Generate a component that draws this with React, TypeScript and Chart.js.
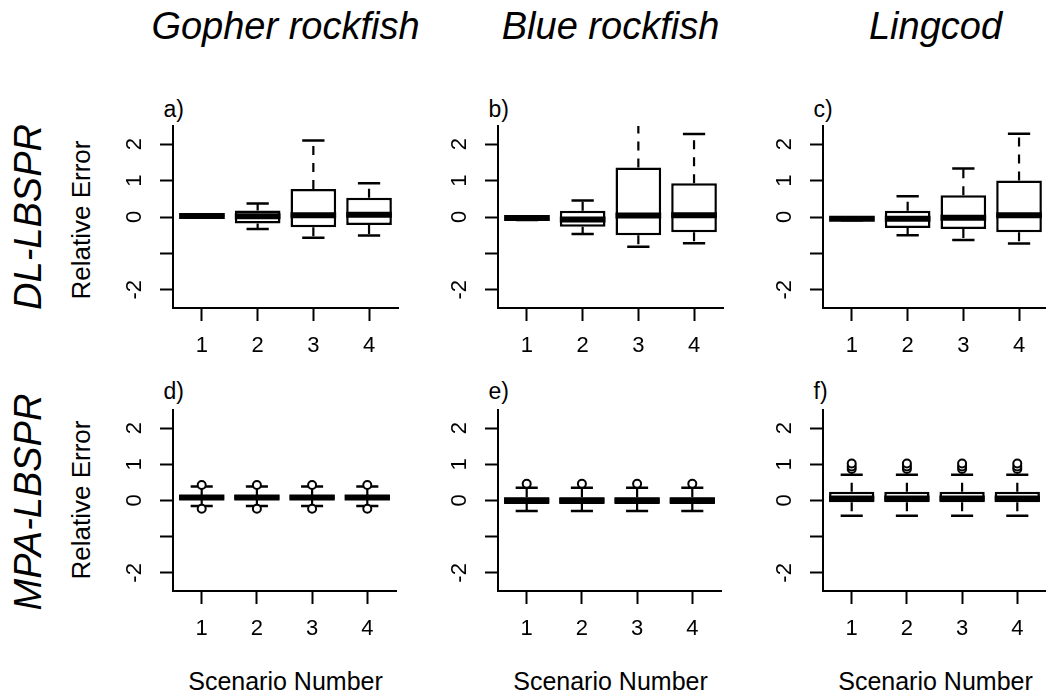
import React, { useEffect, useRef } from 'react';
import { Chart, registerables } from 'chart.js';

Chart.register(...registerables);

// ---------- data ----------
const SPECIES = ['Gopher rockfish', 'Blue rockfish', 'Lingcod'];
const METHODS = ['DL-LBSPR', 'MPA-LBSPR'];
const PANEL_LETTERS = ['a)', 'b)', 'c)', 'd)', 'e)', 'f)'];
const SCENARIOS = [1, 2, 3, 4];
const X_TICK_LABELS = ['1', '2', '3', '4'];
const Y_TICKS = [-2, -1, 0, 1, 2];
const Y_TICK_LABELS = ['-2', '', '0', '1', '2'];
const Y_LABEL = 'Relative Error';
const X_LABEL = 'Scenario Number';

// a) DL-LBSPR, Gopher rockfish
const A_LOWER = [0.02, -0.33, -0.57, -0.51];
const A_Q1 = [0.02, -0.18, -0.28, -0.22];
const A_MEDIAN = [0.03, 0.02, 0.05, 0.06];
const A_Q3 = [0.04, 0.18, 0.77, 0.53];
const A_UPPER = [0.04, 0.37, 2.1, 0.93];
const A_OUTLIERS: number[][] = [[], [], [], []];

// b) DL-LBSPR, Blue rockfish
const B_LOWER = [-0.08, -0.47, -0.82, -0.72];
const B_Q1 = [-0.05, -0.27, -0.5, -0.42];
const B_MEDIAN = [-0.03, -0.07, 0.04, 0.05];
const B_Q3 = [-0.02, 0.17, 1.36, 0.93];
const B_UPPER = [-0.01, 0.45, 2.65, 2.28];
const B_OUTLIERS: number[][] = [[], [], [], []];

// c) DL-LBSPR, Lingcod
const C_LOWER = [-0.09, -0.5, -0.63, -0.73];
const C_Q1 = [-0.06, -0.3, -0.33, -0.42];
const C_MEDIAN = [-0.05, -0.05, -0.02, 0.05];
const C_Q3 = [-0.04, 0.17, 0.6, 1.0];
const C_UPPER = [-0.03, 0.57, 1.33, 2.29];
const C_OUTLIERS: number[][] = [[], [], [], []];

// d) MPA-LBSPR, Gopher rockfish
const D_LOWER = [-0.15, -0.15, -0.15, -0.15];
const D_Q1 = [0.02, 0.02, 0.02, 0.02];
const D_MEDIAN = [0.08, 0.08, 0.08, 0.08];
const D_Q3 = [0.15, 0.15, 0.15, 0.15];
const D_UPPER = [0.39, 0.39, 0.39, 0.39];
const D_OUTLIERS = [[0.43, -0.23], [0.43, -0.23], [0.43, -0.23], [0.43, -0.23]];

// e) MPA-LBSPR, Blue rockfish
const E_LOWER = [-0.29, -0.29, -0.29, -0.29];
const E_Q1 = [-0.1, -0.1, -0.1, -0.1];
const E_MEDIAN = [0.0, 0.0, 0.0, 0.0];
const E_Q3 = [0.09, 0.09, 0.09, 0.09];
const E_UPPER = [0.35, 0.35, 0.35, 0.35];
const E_OUTLIERS = [[0.46], [0.46], [0.46], [0.46]];

// f) MPA-LBSPR, Lingcod
const F_LOWER = [-0.42, -0.42, -0.42, -0.42];
const F_Q1 = [-0.05, -0.05, -0.05, -0.05];
const F_MEDIAN = [0.055, 0.055, 0.055, 0.055];
const F_Q3 = [0.24, 0.24, 0.24, 0.24];
const F_UPPER = [0.71, 0.71, 0.71, 0.71];
const F_OUTLIERS = [[0.87, 0.94, 1.02], [0.87, 0.94, 1.02], [0.87, 0.94, 1.02], [0.87, 0.94, 1.02]];

const PANELS = [
  { lower: A_LOWER, q1: A_Q1, median: A_MEDIAN, q3: A_Q3, upper: A_UPPER, outliers: A_OUTLIERS },
  { lower: B_LOWER, q1: B_Q1, median: B_MEDIAN, q3: B_Q3, upper: B_UPPER, outliers: B_OUTLIERS },
  { lower: C_LOWER, q1: C_Q1, median: C_MEDIAN, q3: C_Q3, upper: C_UPPER, outliers: C_OUTLIERS },
  { lower: D_LOWER, q1: D_Q1, median: D_MEDIAN, q3: D_Q3, upper: D_UPPER, outliers: D_OUTLIERS },
  { lower: E_LOWER, q1: E_Q1, median: E_MEDIAN, q3: E_Q3, upper: E_UPPER, outliers: E_OUTLIERS },
  { lower: F_LOWER, q1: F_Q1, median: F_MEDIAN, q3: F_Q3, upper: F_UPPER, outliers: F_OUTLIERS },
];

// ---------- layout ----------
const FONT = '"Liberation Sans", Arial, Helvetica, sans-serif';
const COL_LEFT = [173, 498, 823];
const PLOT_W = 225;
const ROW_TOP = [126, 410];
const PLOT_H = [182, 181];
const Y_AXIS_W = 73;
const X_AXIS_H = 50;
const PAD_TOP = 10;
const PAD_RIGHT = 4;
const BOX_HALF = 0.41;
const CAP_HALF = 0.2;

function segments(pairs: { x0: number; x1: number; y0: number; y1: number }[]) {
  const out: { x: number; y: number | null }[] = [];
  pairs.forEach((p) => {
    out.push({ x: p.x0, y: p.y0 });
    out.push({ x: p.x1, y: p.y1 });
    out.push({ x: (p.x0 + p.x1) / 2, y: null });
  });
  return out;
}

const zeroPadding = (s: any) => {
  s.paddingTop = 0;
  s.paddingBottom = 0;
  s.paddingLeft = 0;
  s.paddingRight = 0;
};

function Panel({ idx }: { idx: number }) {
  const ref = useRef<HTMLCanvasElement>(null);
  const row = Math.floor(idx / 3);
  const col = idx % 3;
  const w = Y_AXIS_W + PLOT_W + PAD_RIGHT;
  const h = PAD_TOP + PLOT_H[row] + X_AXIS_H;
  useEffect(() => {
    const p = PANELS[idx];
    const boxes = SCENARIOS.map((s, i) => ({ x: s, y: [p.q1[i], p.q3[i]] }));
    const whiskers = segments(
      SCENARIOS.flatMap((s, i) => [
        { x0: s, x1: s, y0: p.q3[i], y1: p.upper[i] },
        { x0: s, x1: s, y0: p.q1[i], y1: p.lower[i] },
      ])
    );
    const caps = segments(
      SCENARIOS.flatMap((s, i) => [
        { x0: s - CAP_HALF, x1: s + CAP_HALF, y0: p.upper[i], y1: p.upper[i] },
        { x0: s - CAP_HALF, x1: s + CAP_HALF, y0: p.lower[i], y1: p.lower[i] },
      ])
    );
    const medians = segments(
      SCENARIOS.map((s, i) => ({ x0: s - BOX_HALF, x1: s + BOX_HALF, y0: p.median[i], y1: p.median[i] }))
    );
    const outliers = SCENARIOS.flatMap((s, i) => p.outliers[i].map((v) => ({ x: s, y: v })));

    const chart = new Chart(ref.current!, {
      type: 'bar',
      data: {
        datasets: [
          {
            type: 'bar',
            data: boxes as any,
            backgroundColor: '#ffffff',
            borderColor: '#000000',
            borderWidth: 2.5,
            borderSkipped: false,
            barPercentage: BOX_HALF * 2,
            categoryPercentage: 1,
            order: 4,
          },
          {
            type: 'line',
            data: whiskers as any,
            borderColor: '#000000',
            borderWidth: 2.2,
            borderDash: [9, 8],
            pointRadius: 0,
            spanGaps: false,
            order: 3,
          },
          {
            type: 'line',
            data: caps as any,
            borderColor: '#000000',
            borderWidth: 2.5,
            pointRadius: 0,
            spanGaps: false,
            order: 2,
          },
          {
            type: 'line',
            data: medians as any,
            borderColor: '#000000',
            borderWidth: 6,
            pointRadius: 0,
            spanGaps: false,
            order: 1,
          },
          {
            type: 'scatter',
            data: outliers as any,
            pointStyle: 'circle',
            pointRadius: 4,
            pointBackgroundColor: '#ffffff',
            pointBorderColor: '#000000',
            pointBorderWidth: 2,
            order: 0,
          },
        ],
      },
      options: {
        animation: false,
        responsive: false,
        devicePixelRatio: 1,
        events: [],
        layout: { padding: { top: PAD_TOP, right: PAD_RIGHT, left: 0, bottom: 0 } },
        plugins: { legend: { display: false }, tooltip: { enabled: false }, title: { display: false } },
        scales: {
          x: {
            type: 'linear',
            min: 0.48,
            max: 4.52,
            offset: false,
            afterBuildTicks: (s: any) => {
              s.ticks = SCENARIOS.map((v) => ({ value: v }));
            },
            afterFit: (s: any) => {
              s.height = X_AXIS_H;
              zeroPadding(s);
            },
            grid: { display: true, offset: false, drawOnChartArea: false, drawTicks: true, tickLength: 13, tickWidth: 2, tickColor: '#000000' },
            border: { display: true, color: '#000000', width: 2 },
            ticks: {
              color: '#000000',
              font: { family: FONT, size: 22 },
              padding: 12,
              maxRotation: 0,
              minRotation: 0,
              autoSkip: false,
              callback: (_v: any, i: number) => X_TICK_LABELS[i],
            },
          },
          y: {
            type: 'linear',
            min: -2.5,
            max: 2.5,
            afterBuildTicks: (s: any) => {
              s.ticks = Y_TICKS.map((v) => ({ value: v }));
            },
            afterFit: (s: any) => {
              s.width = Y_AXIS_W;
              zeroPadding(s);
            },
            grid: { display: true, drawOnChartArea: false, drawTicks: true, tickLength: 13, tickWidth: 2, tickColor: '#000000' },
            border: { display: true, color: '#000000', width: 2 },
            ticks: {
              color: '#000000',
              font: { family: FONT, size: 22 },
              padding: 15,
              minRotation: 90,
              maxRotation: 90,
              crossAlign: 'center',
              autoSkip: false,
              callback: (_v: any, i: number) => Y_TICK_LABELS[i],
            },
          },
        },
      },
    } as any);
    return () => chart.destroy();
  }, [idx]);
  return (
    <canvas
      ref={ref}
      width={w}
      height={h}
      style={{
        position: 'absolute',
        left: COL_LEFT[col] - Y_AXIS_W,
        top: ROW_TOP[row] - PAD_TOP,
        width: w,
        height: h,
      }}
    />
  );
}

function Text({ x, y, size, italic, rotate, children }: any) {
  return (
    <div
      style={{
        position: 'absolute',
        left: x,
        top: y,
        transform: `translate(-50%, -50%)${rotate ? ' rotate(-90deg)' : ''}`,
        fontFamily: FONT,
        fontSize: size,
        fontStyle: italic ? 'italic' : 'normal',
        lineHeight: 1,
        whiteSpace: 'nowrap',
        color: '#000',
      }}
    >
      {children}
    </div>
  );
}

export default function App() {
  const ROW_LABEL_Y = [216.5, 501.7];
  const YLAB_Y = [219.5, 500];
  const LETTER_TOP = [98, 379.5];
  return (
    <div
      style={{
        position: 'absolute',
        left: 0,
        top: 0,
        width: 1046,
        height: 696,
        overflow: 'hidden',
        background: '#ffffff',
      }}
    >
      {SPECIES.map((s, c) => (
        <Text key={s} x={COL_LEFT[c] + PLOT_W / 2} y={26} size={38} italic>
          {s}
        </Text>
      ))}
      {METHODS.map((m, r) => (
        <Text key={m} x={28.3} y={ROW_LABEL_Y[r]} size={38} italic rotate>
          {m}
        </Text>
      ))}
      {METHODS.map((m, r) => (
        <Text key={'yl' + m} x={81.3} y={YLAB_Y[r]} size={26} rotate>
          {Y_LABEL}
        </Text>
      ))}
      {SPECIES.map((s, c) => (
        <Text key={'xl' + s} x={COL_LEFT[c] + PLOT_W / 2} y={680.8} size={25}>
          {X_LABEL}
        </Text>
      ))}
      {PANEL_LETTERS.map((l, i) => (
        <div
          key={l}
          style={{
            position: 'absolute',
            left: COL_LEFT[i % 3] - 9.5,
            top: LETTER_TOP[Math.floor(i / 3)],
            fontFamily: FONT,
            fontSize: 23,
            lineHeight: 1,
            whiteSpace: 'nowrap',
          }}
        >
          {l}
        </div>
      ))}
      {PANELS.map((_, i) => (
        <Panel key={i} idx={i} />
      ))}
    </div>
  );
}
